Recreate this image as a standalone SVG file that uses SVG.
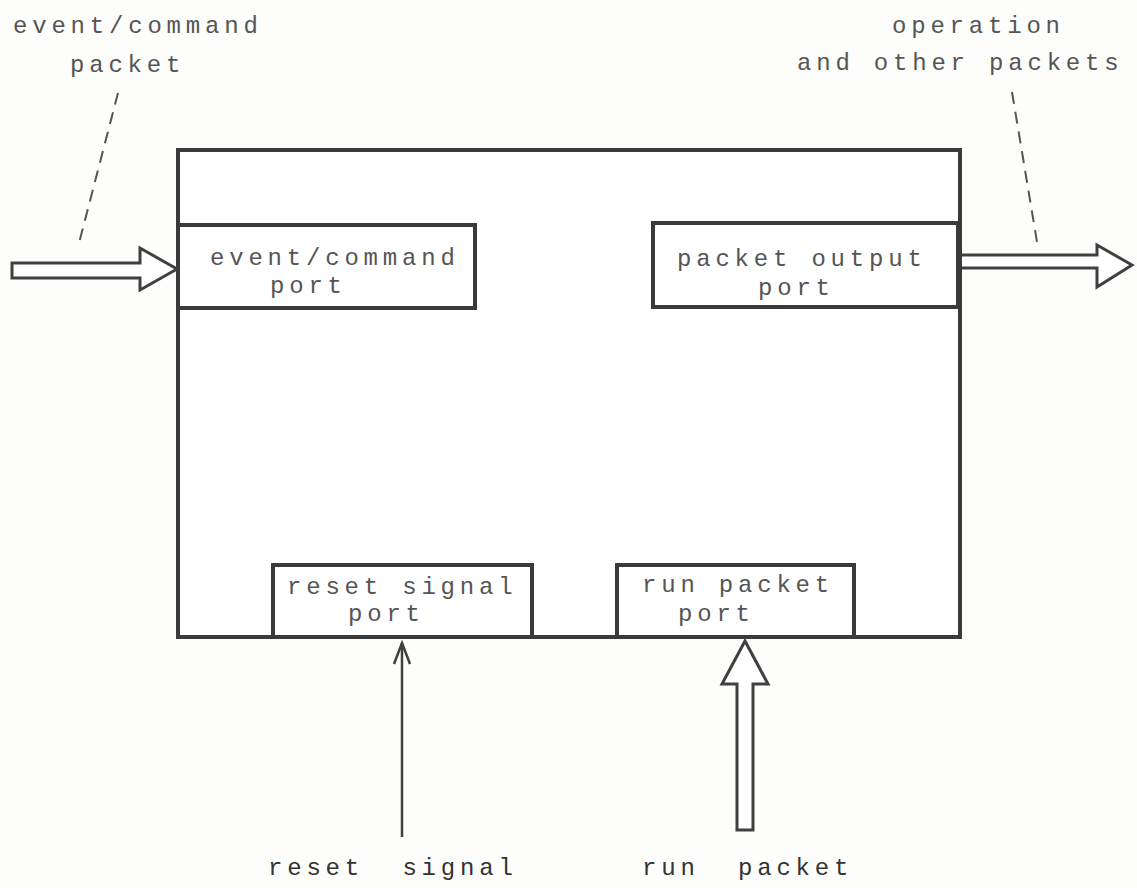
<svg xmlns="http://www.w3.org/2000/svg" width="1137" height="888" viewBox="0 0 1137 888">
  <defs>
    <style>
      .box { fill: #ffffff; stroke: #3a3a3a; stroke-width: 4; }
      .lbl { font-family: "Liberation Mono", "Courier New", monospace; font-size: 24px; letter-spacing: 4.8px; fill: #555555; white-space: pre; }
      .dark { fill: #333333; }
      .hollow { fill: #ffffff; stroke: #404040; stroke-width: 3; stroke-linejoin: miter; }
      .dash { fill: none; stroke: #555555; stroke-width: 2; stroke-dasharray: 12 8; }
      .thin { fill: none; stroke: #404040; stroke-width: 2.5; }
    </style>
    <marker id="vhead" markerWidth="26" markerHeight="20" refX="23" refY="10" orient="auto" markerUnits="userSpaceOnUse" viewBox="0 0 26 20">
      <path d="M2,2 L23,10 L2,18" fill="none" stroke="#404040" stroke-width="2.5"/>
    </marker>
  </defs>
  <rect width="1137" height="888" fill="#fdfdfb"/>

  <g id="main-block">
    <rect class="box" x="178" y="150" width="782" height="487"/>
  </g>

  <g id="event-command-port">
    <rect class="box" x="178" y="225" width="297" height="83"/>
    <text class="lbl" x="210" y="265">event/command</text>
    <text class="lbl" x="270" y="293">port</text>
  </g>

  <g id="packet-output-port">
    <rect class="box" x="653" y="223" width="305" height="84"/>
    <text class="lbl" x="677" y="266">packet output</text>
    <text class="lbl" x="758" y="295">port</text>
  </g>

  <g id="reset-signal-port">
    <rect class="box" x="273" y="565" width="259" height="72"/>
    <text class="lbl" x="287" y="594">reset signal</text>
    <text class="lbl" x="348" y="621">port</text>
  </g>

  <g id="run-packet-port">
    <rect class="box" x="617" y="565" width="237" height="72"/>
    <text class="lbl" x="642" y="592">run packet</text>
    <text class="lbl" x="678" y="621">port</text>
  </g>

  <g id="connectors">
    <path class="hollow" d="M12,263 L140,263 L140,248 L177,269 L140,290 L140,278 L12,278 Z"/>
    <path class="hollow" d="M962,255 L1097,255 L1097,245 L1132,265 L1097,287 L1097,268 L962,268"/>
    <path class="hollow" d="M737,830 L737,684 L722,684 L745,641 L768,684 L753,684 L753,830 Z"/>
    <line class="thin" x1="402" y1="837" x2="402" y2="643" marker-end="url(#vhead)"/>
    <line class="dash" x1="118" y1="93" x2="78" y2="247"/>
    <line class="dash" x1="1012" y1="92" x2="1037" y2="242"/>
  </g>

  <g id="labels">
    <text class="lbl" x="13" y="33">event/command</text>
    <text class="lbl" x="70" y="72">packet</text>
    <text class="lbl" x="892" y="33">operation</text>
    <text class="lbl" x="797" y="70">and other packets</text>
    <text class="lbl dark" x="268" y="875">reset  signal</text>
    <text class="lbl dark" x="642" y="875">run  packet</text>
  </g>
</svg>
